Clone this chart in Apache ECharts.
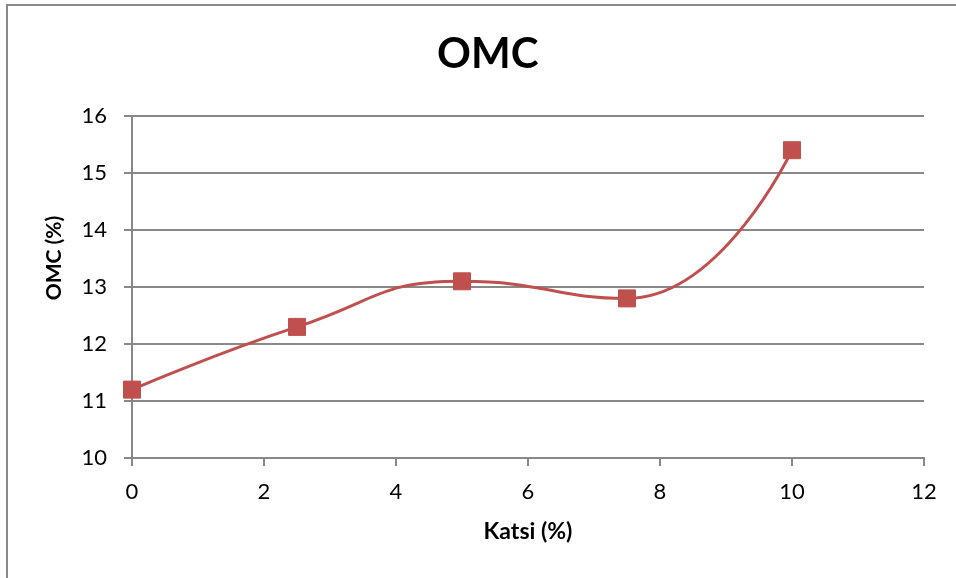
<!DOCTYPE html>
<html>
<head>
<meta charset="utf-8">
<script src="https://cdn.jsdelivr.net/npm/echarts@6/dist/echarts.min.js"></script>
<style>
  html, body { margin: 0; padding: 0; background: #fff; }
  #chart { width: 956px; height: 578px; }
</style>
</head>
<body>
<div id="chart"></div>
<script>
// Katsi content (%) and the matching optimum moisture content (%)
const katsi = [0, 2.5, 5, 7.5, 10];
const omc = [11.2, 12.3, 13.1, 12.8, 15.4];
const xTicks = [0, 2, 4, 6, 8, 10, 12];
const yTicks = [10, 11, 12, 13, 14, 15, 16];

const font = 'Lato, "Open Sans", "Liberation Sans", sans-serif';
const chart = echarts.init(document.getElementById('chart'));

chart.setOption({
  animation: false,
  backgroundColor: '#fff',
  graphic: [
    {
      type: 'rect',
      shape: { x: 7, y: 5, width: 1000, height: 700 },
      style: { fill: 'none', stroke: '#898989', lineWidth: 2 },
      silent: true
    },
    {
      // vertical axis title
      type: 'text',
      x: 54,
      y: 258,
      rotation: Math.PI / 2,
      style: {
        text: 'OMC (%)',
        align: 'center',
        verticalAlign: 'middle',
        font: 'bold 21px ' + font,
        fill: '#000'
      },
      silent: true
    },
    {
      // horizontal axis title
      type: 'text',
      x: 528,
      y: 532,
      style: {
        text: 'Katsi (%)',
        align: 'center',
        verticalAlign: 'middle',
        font: 'bold 23px ' + font,
        fill: '#000'
      },
      silent: true
    }
  ],
  title: {
    text: 'OMC',
    left: 432,
    top: 28,
    textStyle: { fontFamily: font, fontWeight: 'bold', fontSize: 42, color: '#000' }
  },
  grid: { left: 132, right: 32, top: 116, bottom: 120 },
  xAxis: {
    type: 'value',
    min: xTicks[0],
    max: xTicks[xTicks.length - 1],
    interval: 2,
    axisLine: { show: true, lineStyle: { color: '#888', width: 2 } },
    axisTick: { show: true, length: 8, lineStyle: { color: '#888', width: 2 } },
    axisLabel: { margin: 23, fontFamily: font, fontSize: 22, color: '#000' },
    splitLine: { show: false }
  },
  yAxis: {
    type: 'value',
    min: yTicks[0],
    max: yTicks[yTicks.length - 1],
    interval: 1,
    axisLine: { show: true, lineStyle: { color: '#888', width: 2 } },
    axisTick: { show: true, length: 8, lineStyle: { color: '#888', width: 2 } },
    axisLabel: { margin: 25, fontFamily: font, fontSize: 22, color: '#000' },
    splitLine: { show: true, lineStyle: { color: '#888', width: 2 } }
  },
  series: [{
    type: 'line',
    data: katsi.map((k, i) => [k, omc[i]]),
    smooth: 0.5,
    symbol: 'rect',
    symbolSize: 17,
    itemStyle: { color: '#C0504D', borderColor: '#C0504D' },
    lineStyle: { color: '#C0504D', width: 3 }
  }]
});
</script>
</body>
</html>
